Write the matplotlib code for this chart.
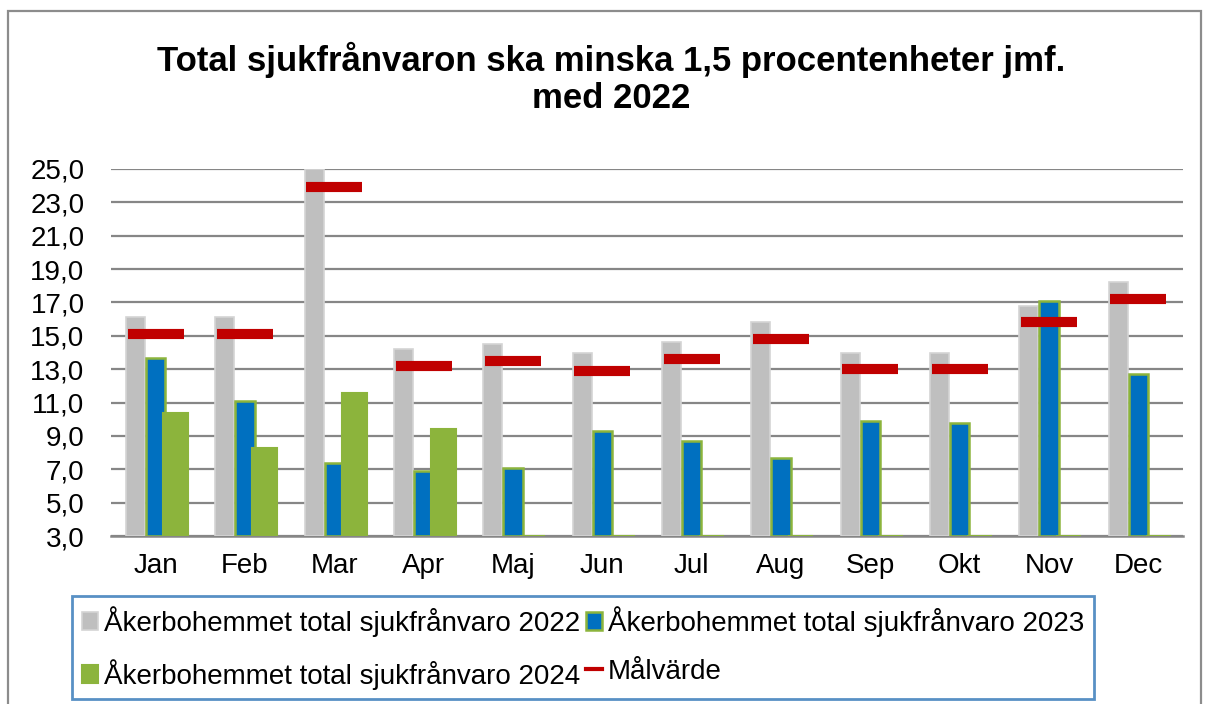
import numpy as np
import matplotlib
matplotlib.use("Agg")
import matplotlib.pyplot as plt
from matplotlib.lines import Line2D
from matplotlib.patches import Rectangle
from matplotlib.ticker import FuncFormatter

plt.rcParams['font.family'] = ['Liberation Sans', 'DejaVu Sans']

# Data
months = ['Jan', 'Feb', 'Mar', 'Apr', 'Maj', 'Jun', 'Jul', 'Aug', 'Sep', 'Okt', 'Nov', 'Dec']
sick_2022 = [16.1, 16.1, 25.0, 14.2, 14.5, 14.0, 14.6, 15.8, 14.0, 14.0, 16.8, 18.2]
sick_2023 = [13.7, 11.1, 7.4, 6.9, 7.1, 9.3, 8.7, 7.7, 9.9, 9.8, 17.1, 12.7]
sick_2024 = [10.4, 8.3, 11.6, 9.4, 0, 0, 0, 0, 0, 0, 0, 0]
target = [15.1, 15.1, 23.9, 13.2, 13.5, 12.9, 13.6, 14.8, 13.0, 13.0, 15.8, 17.2]
y_ticks = [3, 5, 7, 9, 11, 13, 15, 17, 19, 21, 23, 25]

labels = ['Åkerbohemmet total sjukfrånvaro 2022',
          'Åkerbohemmet total sjukfrånvaro 2023',
          'Åkerbohemmet total sjukfrånvaro 2024',
          'Målvärde']

GRAY = '#BFBFBF'
BLUE = '#0070C0'
GREEN = '#8CB43C'
RED = '#C00000'
GRID = '#868686'
YMIN, YMAX = 3.0, 25.0

fig = plt.figure(figsize=(12.05, 7.04), dpi=100)
ax = fig.add_axes([111 / 1205, 1 - 536 / 704, (1183 - 111) / 1205, (536 - 169) / 704])

x = np.arange(len(months))

def heights(vals):
    # Excel draws the bars up from the axis minimum
    return np.clip(np.array(vals) - YMIN, 0, None)

b22 = ax.bar(x - 0.226, heights(sick_2022), bottom=YMIN, width=0.215,
             color=GRAY, edgecolor='#D4D4D4', linewidth=1.2, zorder=3)
b23 = ax.bar(x, heights(sick_2023), bottom=YMIN, width=0.22,
             color=BLUE, edgecolor=GREEN, linewidth=1.8, zorder=4)
b24 = ax.bar(x + 0.222, heights(sick_2024), bottom=YMIN, width=0.28,
             color=GREEN, edgecolor=GREEN, linewidth=1.5, zorder=5)
ax.hlines(target, x - 0.315, x + 0.315, color=RED, linewidth=7.3, zorder=6)

ax.set_xlim(-0.5, len(months) - 0.5)
ax.set_ylim(YMIN, YMAX)
ax.set_yticks(y_ticks)
ax.yaxis.set_major_formatter(FuncFormatter(lambda v, p: f"{v:.1f}".replace('.', ',')))
ax.set_xticks(x)
ax.set_xticklabels(months)
ax.tick_params(axis='both', length=0, labelsize=20, colors='black')
ax.tick_params(axis='x', pad=12)
ax.tick_params(axis='y', pad=19)

ax.grid(axis='y', color=GRID, linewidth=1.6, zorder=0)
ax.set_axisbelow(True)
for side in ['left', 'right', 'top']:
    ax.spines[side].set_visible(False)
ax.spines['bottom'].set_color(GRID)
ax.spines['bottom'].set_linewidth(1.8)
ax.spines['bottom'].set_zorder(2)

fig.text(0.5075, 1 - 78 / 704, 'Total sjukfrånvaron ska minska 1,5 procentenheter jmf.\nmed 2022',
         ha='center', va='center', fontsize=25, fontweight='bold', linespacing=1.15)

target_handle = Line2D([], [], color=RED, linewidth=3)
leg = fig.legend([b22, b24, b23, target_handle],
                 [labels[0], labels[2], labels[1], labels[3]],
                 ncol=2, loc='upper left', bbox_to_anchor=(72 / 1205, 1 - 596 / 704),
                 fontsize=20, frameon=True, fancybox=False,
                 handlelength=0.6, handleheight=0.6, handletextpad=0.2,
                 columnspacing=0.2, labelspacing=0.8, borderpad=0.35, borderaxespad=0)
leg.get_frame().set_edgecolor('#2E75B6')
leg.get_frame().set_linewidth(2)

# chart area border
fig.patches.append(Rectangle((8 / 1205, -0.05), (1201 - 8) / 1205, 1.05 - 11 / 704,
                             transform=fig.transFigure, fill=False,
                             edgecolor='#8C8C8C', linewidth=1.6))

fig.savefig('out.png', dpi=100)
